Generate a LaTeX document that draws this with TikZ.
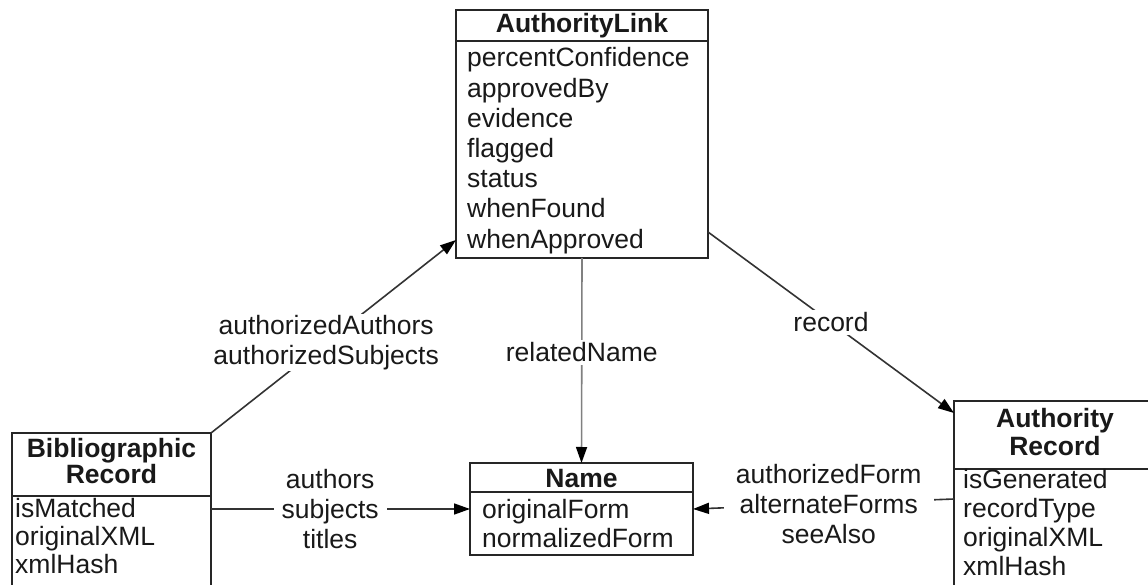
\documentclass[tikz,border=0pt]{standalone}
\usepackage{fontspec}
\setmainfont{Liberation Sans}
\usetikzlibrary{arrows.meta}
\begin{document}
\begin{tikzpicture}[x=1pt,y=-1pt,
  classbox/.style={draw=black!85, line width=1.8pt, inner sep=0pt, outer sep=0pt},
  sepline/.style={draw=black!85, line width=1.5pt},
  head/.style={font=\fontsize{26.5}{30}\selectfont\bfseries, text=black!90, anchor=base, inner sep=0pt},
  attr/.style={font=\fontsize{26.5}{30}\selectfont, text=black!90, anchor=base west, inner sep=0pt},
  conn/.style={draw=black!80, line width=1.6pt, -{Triangle[length=16pt,width=11pt,color=black]}},
  lab/.style={font=\fontsize{26.5}{30}\selectfont, text=black!90, align=center, fill=white, inner xsep=8pt, inner ysep=3pt},
]
\useasboundingbox (0,0) rectangle (1148,585);
\clip (0,0) rectangle (1148,585);
\fill[white] (0,0) rectangle (1148,585);

% AuthorityLink class
\node[classbox, minimum width=252pt, minimum height=248pt] (al) at (582,134) {};
\draw[sepline] (al.west |- 0,41) -- (al.east |- 0,41);
\node[head] (al-h) at (582,33) {AuthorityLink};
\foreach \t [count=\i] in {percentConfidence,approvedBy,evidence,flagged,status,whenFound,whenApproved}
  \node[attr] (al-\i) at (467,{67+30.2*(\i-1)}) {\t};

% Bibliographic Record class
\node[classbox, minimum width=199pt, minimum height=170pt] (bib) at (111.5,518) {};
\draw[sepline] (bib.west |- 0,496) -- (bib.east |- 0,496);
\node[head] (bib-h1) at (111.5,457) {Bibliographic};
\node[head] (bib-h2) at (111.5,483) {Record};
\foreach \t [count=\i] in {isMatched,originalXML,xmlHash}
  \node[attr] (bib-\i) at (15,{517+28*(\i-1)}) {\t};

% Authority Record class
\node[classbox, minimum width=202pt, minimum height=196pt] (ar) at (1055,499) {};
\draw[sepline] (ar.west |- 0,469) -- (ar.east |- 0,469);
\node[head] (ar-h1) at (1055,427) {Authority};
\node[head] (ar-h2) at (1055,455) {Record};
\foreach \t [count=\i] in {isGenerated,recordType,originalXML,xmlHash}
  \node[attr] (ar-\i) at (963,{488+29*(\i-1)}) {\t};

% Name class
\node[classbox, minimum width=223pt, minimum height=92pt] (name) at (581.5,509) {};
\draw[sepline] (name.west |- 0,492) -- (name.east |- 0,492);
\node[head] (name-h) at (581.5,487) {Name};
\node[attr] (name-1) at (482,518) {originalForm};
\node[attr] (name-2) at (482,547) {normalizedForm};

% associations
\draw[conn] (bib.north east) -- node[lab, pos=0.47, inner xsep=2pt, inner ysep=1pt] (lab-aa) {authorizedAuthors\\authorizedSubjects} ([yshift=18pt]al.south west);
\draw[conn, draw=black!50] (al.south) -- node[lab, pos=0.46] (lab-rn) {relatedName} (name.north);
\draw[conn] ([yshift=26pt]al.south east) -- node[lab, pos=0.5, inner xsep=4pt] (lab-rec) {record} ([yshift=-12pt]ar.north west);
\draw[conn] (bib.east |- name.west) -- node[lab, pos=0.46] (lab-as) {authors\\subjects\\titles} (name.west);
\draw[conn] (ar.west) -- node[lab, pos=0.48, inner xsep=12pt] (lab-af) {authorizedForm\\alternateForms\\seeAlso} (name.east);
\end{tikzpicture}
\end{document}
